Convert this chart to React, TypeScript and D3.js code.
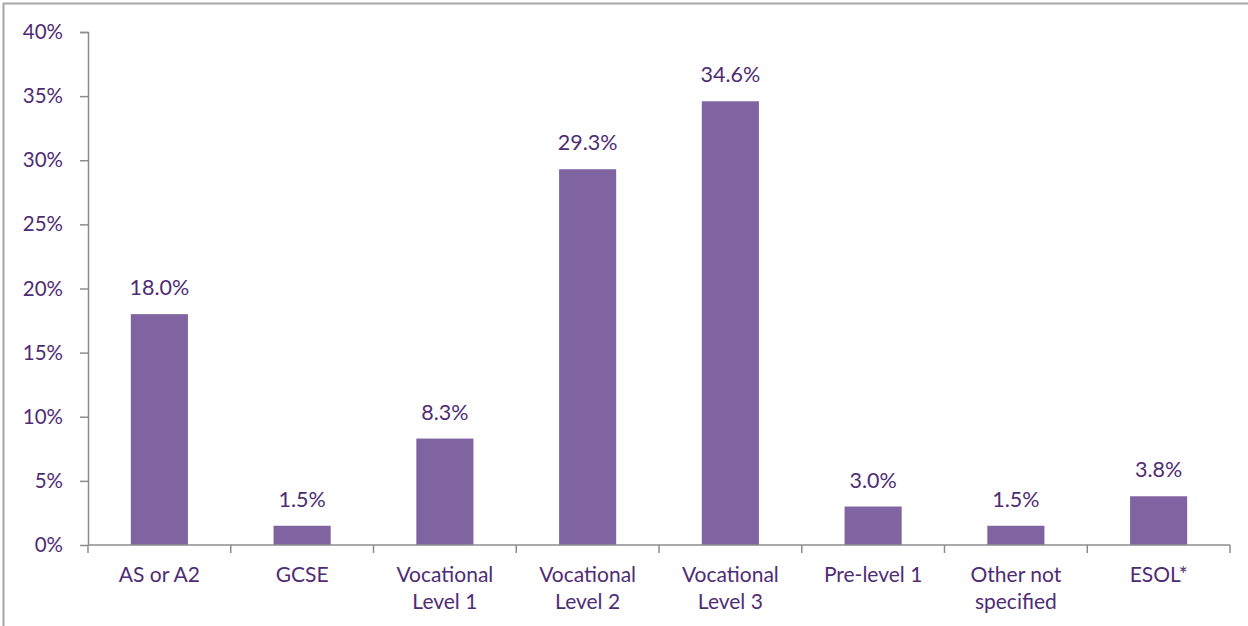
import React, { useEffect, useRef } from "react";
import * as d3 from "d3";

// qualification categories (line breaks as in the chart)
const categories = [
  "AS or A2",
  "GCSE",
  "Vocational|Level 1",
  "Vocational|Level 2",
  "Vocational|Level 3",
  "Pre-level 1",
  "Other not|specified",
  "ESOL*",
];
const shares = [18.0, 1.5, 8.3, 29.3, 34.6, 3.0, 1.5, 3.8];
const yTicks = [0, 5, 10, 15, 20, 25, 30, 35, 40];

const App = () => {
  const ref = useRef<SVGSVGElement>(null);

  useEffect(() => {
    const width = 1248;
    const height = 626;
    const margin = { top: 32, right: 18, bottom: 81, left: 88 };
    const innerW = width - margin.left - margin.right;
    const innerH = height - margin.top - margin.bottom;
    const textColor = "#4f2c74";
    const axisColor = "#8c8c8c";
    const font = "Lato, 'Open Sans', sans-serif";

    const svg = d3.select(ref.current);
    svg.selectAll("*").remove();

    // outer frame
    svg.append("rect")
      .attr("x", 3.5).attr("y", 3.5)
      .attr("width", width + 10).attr("height", height + 10)
      .attr("fill", "none").attr("stroke", "#a6a6a6").attr("stroke-width", 2);

    const g = svg.append("g").attr("transform", `translate(${margin.left},${margin.top})`);

    const x = d3.scaleBand<number>()
      .domain(d3.range(categories.length))
      .range([0, innerW])
      .paddingInner(0.6)
      .paddingOuter(0.3);
    const step = innerW / categories.length;
    const y = d3.scaleLinear().domain([0, 40]).range([innerH, 0]);

    // y axis
    const yAxis = g.append("g")
      .call(d3.axisLeft(y).tickValues(yTicks).tickSize(8).tickPadding(17).tickFormat(d => `${d}%`));
    yAxis.select(".domain").attr("stroke", axisColor).attr("stroke-width", 1.5).attr("d", `M-8,0.5H0.5V${innerH}`);
    yAxis.selectAll(".tick line").attr("stroke", axisColor).attr("stroke-width", 1.5);
    yAxis.selectAll(".tick text")
      .attr("fill", textColor).style("font-family", font).style("font-size", "20.5px");

    // bars
    g.selectAll("rect.bar").data(shares).join("rect")
      .attr("class", "bar")
      .attr("x", (_, i) => x(i)!)
      .attr("width", x.bandwidth())
      .attr("y", d => y(d))
      .attr("height", d => innerH - y(d))
      .attr("fill", "#8064a2");

    // value labels
    g.selectAll("text.val").data(shares).join("text")
      .attr("class", "val")
      .attr("x", (_, i) => x(i)! + x.bandwidth() / 2)
      .attr("y", d => y(d) - 19)
      .attr("text-anchor", "middle")
      .attr("fill", textColor)
      .style("font-family", font).style("font-size", "21.5px")
      .text(d => `${d.toFixed(1)}%`);

    // x axis line and category separators
    g.append("line")
      .attr("x1", 0).attr("x2", innerW)
      .attr("y1", innerH).attr("y2", innerH)
      .attr("stroke", axisColor).attr("stroke-width", 1.5);
    g.selectAll("line.sep").data(d3.range(categories.length + 1)).join("line")
      .attr("class", "sep")
      .attr("x1", i => i * step).attr("x2", i => i * step)
      .attr("y1", innerH).attr("y2", innerH + 8)
      .attr("stroke", axisColor).attr("stroke-width", 1.5);

    // category labels
    const labels = g.selectAll("text.cat").data(categories).join("text")
      .attr("class", "cat")
      .attr("text-anchor", "middle")
      .attr("fill", textColor)
      .style("font-family", font).style("font-size", "21px");
    labels.each(function (d, i) {
      const t = d3.select(this);
      d.split("|").forEach((line, j) => {
        t.append("tspan")
          .attr("x", x(i)! + x.bandwidth() / 2)
          .attr("y", innerH + 37 + j * 27)
          .text(line);
      });
    });
  }, []);

  return (
    <svg ref={ref} width={1248} height={626}
      style={{ position: "absolute", left: 0, top: 0, background: "#fff" }} />
  );
};

export default App;
